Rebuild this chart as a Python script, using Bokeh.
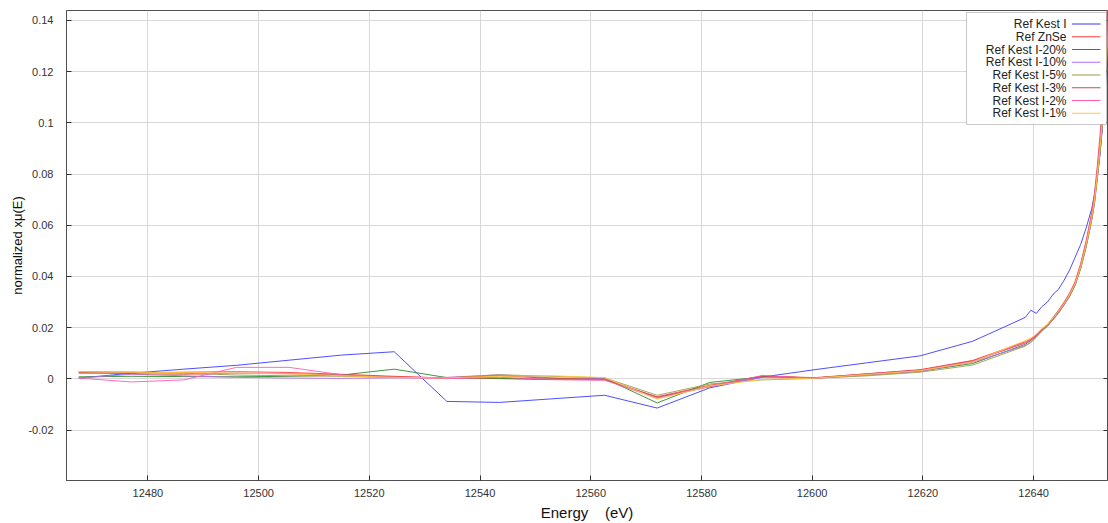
from bokeh.plotting import figure
from bokeh.models import (Range1d, FixedTicker, LinearAxis, BoxAnnotation, Label,
                          Arrow, CustomJSTickFormatter)
from bokeh.embed import file_html
from bokeh.resources import INLINE

# Photon energy grid (eV): coarse pre-edge steps, then the rising edge
energy_pre = [12467.5, 12477.0, 12486.5, 12496.0, 12505.5, 12515.0, 12524.5, 12534.0,
              12543.5, 12553.0, 12562.5, 12572.0, 12581.5, 12591.0, 12600.5, 12610.0,
              12619.5, 12629.0, 12638.5]
energy_edge = [12639.5, 12640.5, 12641.5, 12642.5, 12643.5, 12644.5, 12645.5, 12646.5,
               12647.5, 12648.5, 12649.5, 12650.5, 12651.0, 12651.5, 12652.0, 12652.5,
               12653.0, 12653.5, 12654.0]
energy = energy_pre + energy_edge

# normalized x mu(E) for each reference / dilution
ref_kest_i = [0.0003, 0.0022, 0.0038, 0.0053, 0.0073, 0.0093, 0.0106, -0.0088,
              -0.0092, -0.0078, -0.0064, -0.0114, -0.0035, 0.0007, 0.0036, 0.0063,
              0.0090, 0.0147, 0.0240,
              0.0268, 0.0256, 0.0282, 0.0300, 0.0330, 0.0350, 0.0385, 0.0425,
              0.0475, 0.0525, 0.0590, 0.0665, 0.0720, 0.0790, 0.0880, 0.1000,
              0.1150, 0.1320, 0.1500]
ref_znse = [0.0022, 0.0024, 0.0026, 0.0028, 0.0025, 0.0018, 0.0010, 0.0003,
            0.0001, -0.0003, -0.0004, -0.0070, -0.0025, 0.0010, 0.0005, 0.0020,
            0.0036, 0.0072, 0.0145,
            0.0155, 0.0172, 0.0195, 0.0212, 0.0240, 0.0268, 0.0300, 0.0335,
            0.0380, 0.0450, 0.0540, 0.0650, 0.0725, 0.0830, 0.0950, 0.1110,
            0.1320, 0.1550, 0.1800]
kest_20 = [0.0008, 0.0010, 0.0009, 0.0008, 0.0010, 0.0015, 0.0038, 0.0005,
           0.0002, -0.0001, 0.0002, -0.0094, -0.0014, 0.0008, 0.0004, 0.0015,
           0.0030, 0.0060, 0.0135,
           0.0150, 0.0168, 0.0190, 0.0208, 0.0233, 0.0260, 0.0290, 0.0322,
           0.0365, 0.0430, 0.0515, 0.0620, 0.0685, 0.0780, 0.0880, 0.1010,
           0.1170, 0.1350, 0.1550]
kest_10 = [0.0003, 0.0018, 0.0012, 0.0006, 0.0003, 0.0002, 0.0004, 0.0006,
           0.0016, 0.0004, 0.0001, -0.0072, -0.0030, 0.0005, 0.0003, 0.0016,
           0.0030, 0.0065, 0.0130,
           0.0142, 0.0162, 0.0186, 0.0205, 0.0230, 0.0256, 0.0287, 0.0322,
           0.0368, 0.0435, 0.0520, 0.0625, 0.0690, 0.0790, 0.0890, 0.1020,
           0.1180, 0.1360, 0.1560]
kest_5 = [0.0029, 0.0027, 0.0022, 0.0015, 0.0012, 0.0010, 0.0006, 0.0004,
          0.0016, 0.0010, 0.0004, -0.0064, -0.0020, -0.0004, 0.0002, 0.0012,
          0.0026, 0.0054, 0.0128,
          0.0145, 0.0165, 0.0188, 0.0206, 0.0232, 0.0258, 0.0290, 0.0324,
          0.0368, 0.0432, 0.0518, 0.0622, 0.0688, 0.0785, 0.0885, 0.1015,
          0.1175, 0.1355, 0.1555]
kest_3 = [0.0025, 0.0020, 0.0018, 0.0022, 0.0020, 0.0015, 0.0008, 0.0004,
          0.0012, 0.0002, -0.0002, -0.0072, -0.0030, 0.0012, 0.0003, 0.0020,
          0.0034, 0.0070, 0.0140,
          0.0152, 0.0170, 0.0193, 0.0210, 0.0237, 0.0265, 0.0296, 0.0330,
          0.0374, 0.0442, 0.0530, 0.0636, 0.0706, 0.0806, 0.0915, 0.1060,
          0.1240, 0.1440, 0.1650]
kest_2 = [0.0003, -0.0012, -0.0004, 0.0045, 0.0045, 0.0016, 0.0005, 0.0001,
          0.0006, -0.0002, -0.0005, -0.0076, -0.0030, 0.0013, 0.0002, 0.0018,
          0.0033, 0.0068, 0.0142,
          0.0154, 0.0171, 0.0194, 0.0211, 0.0238, 0.0266, 0.0297, 0.0332,
          0.0376, 0.0445, 0.0534, 0.0640, 0.0712, 0.0812, 0.0925, 0.1075,
          0.1260, 0.1460, 0.1680]
kest_1 = [0.0028, 0.0026, 0.0024, 0.0022, 0.0020, 0.0012, 0.0006, 0.0004,
          0.0010, 0.0012, 0.0005, -0.0079, -0.0028, -0.0002, 0.0003, 0.0017,
          0.0032, 0.0066, 0.0150,
          0.0160, 0.0175, 0.0197, 0.0212, 0.0238, 0.0264, 0.0294, 0.0328,
          0.0372, 0.0438, 0.0525, 0.0630, 0.0698, 0.0795, 0.0900, 0.1035,
          0.1200, 0.1390, 0.1600]

series_names = ["Ref Kest I", "Ref ZnSe", "Ref Kest I-20%", "Ref Kest I-10%",
                "Ref Kest I-5%", "Ref Kest I-3%", "Ref Kest I-2%", "Ref Kest I-1%"]
series_values = [ref_kest_i, ref_znse, kest_20, kest_10, kest_5, kest_3, kest_2, kest_1]
series_colors = ["#3b3bff", "#ff3b3b", "#2b8a2b", "#b36ef2", "#9c9c48",
                 "#d24a4a", "#ff5cb0", "#ffc83a"]

x_ticks = [12480, 12500, 12520, 12540, 12560, 12580, 12600, 12620, 12640]
y_ticks = [-0.02, 0.0, 0.02, 0.04, 0.06, 0.08, 0.10, 0.12, 0.14]

FONT = "Liberation Sans"

p = figure(width=1108, height=523, output_backend="svg", toolbar_location=None,
           x_range=Range1d(12465.3, 12653.35), y_range=Range1d(-0.0397, 0.1439),
           min_border_left=66, min_border_right=1, min_border_top=10,
           min_border_bottom=40, background_fill_color="white",
           border_fill_color="white", outline_line_color="#505050",
           outline_line_width=1)

for name, vals, col in zip(series_names, series_values, series_colors):
    p.line(energy, vals, line_color=col, line_width=1, line_alpha=0.9)

# axes
xax = p.xaxis[0]
xax.ticker = FixedTicker(ticks=x_ticks)
xax.axis_label = "Energy\u00a0\u00a0\u00a0\u00a0(eV)"
yax = p.yaxis[0]
yax.ticker = FixedTicker(ticks=y_ticks)
yax.formatter = CustomJSTickFormatter(code="return String(Number(tick.toFixed(4)));")
yax.axis_label = "normalized x\u03bc(E)"

for ax in (xax, yax):
    ax.major_tick_in = 5
    ax.major_tick_out = 0
    ax.minor_tick_in = 0
    ax.minor_tick_out = 0
    ax.axis_line_color = "#505050"
    ax.major_tick_line_color = "#303030"
    ax.major_label_text_font = FONT
    ax.major_label_text_font_size = "11px"
    ax.major_label_text_color = "#333333"
    ax.axis_label_text_font = FONT
    ax.axis_label_text_font_style = "normal"
    ax.axis_label_text_color = "#111111"

xax.axis_label_text_font_size = "15px"
xax.major_label_standoff = 8
xax.axis_label_standoff = 4
yax.axis_label_text_font_size = "13px"
yax.major_label_standoff = 13
yax.axis_label_standoff = 0

# tick marks on the right edge of the frame (no labels)
rax = LinearAxis(ticker=FixedTicker(ticks=y_ticks), major_tick_in=4, major_tick_out=0,
                 minor_tick_in=0, minor_tick_out=0, axis_line_color=None,
                 major_tick_line_color="#303030",
                 formatter=CustomJSTickFormatter(code="return '';"),
                 major_label_standoff=0)
p.add_layout(rax, "right")

p.xgrid.ticker = FixedTicker(ticks=x_ticks)
p.ygrid.ticker = FixedTicker(ticks=y_ticks)
for g in (p.xgrid[0], p.ygrid[0]):
    g.grid_line_color = "#d8d8d8"
    g.grid_line_width = 1

# legend box: labels on the left, line samples on the right
p.add_layout(BoxAnnotation(left=900, right=1040, top=468, bottom=356,
                           left_units="screen", right_units="screen",
                           top_units="screen", bottom_units="screen",
                           fill_color="white", fill_alpha=1.0,
                           line_color="#505050", line_width=1))
for i, (name, col) in enumerate(zip(series_names, series_colors)):
    yc = 456.5 - 12.75 * i
    p.add_layout(Label(x=1000, y=yc, x_units="screen", y_units="screen", text=name,
                       text_align="right", text_baseline="middle",
                       text_font=FONT, text_font_size="12px", text_color="#222222"))
    p.add_layout(Arrow(end=None, x_start=1005.5, y_start=yc, x_end=1034, y_end=yc,
                       start_units="screen", end_units="screen",
                       line_color=col, line_width=1.2))

open("out.html", "w").write(file_html(p, INLINE))
